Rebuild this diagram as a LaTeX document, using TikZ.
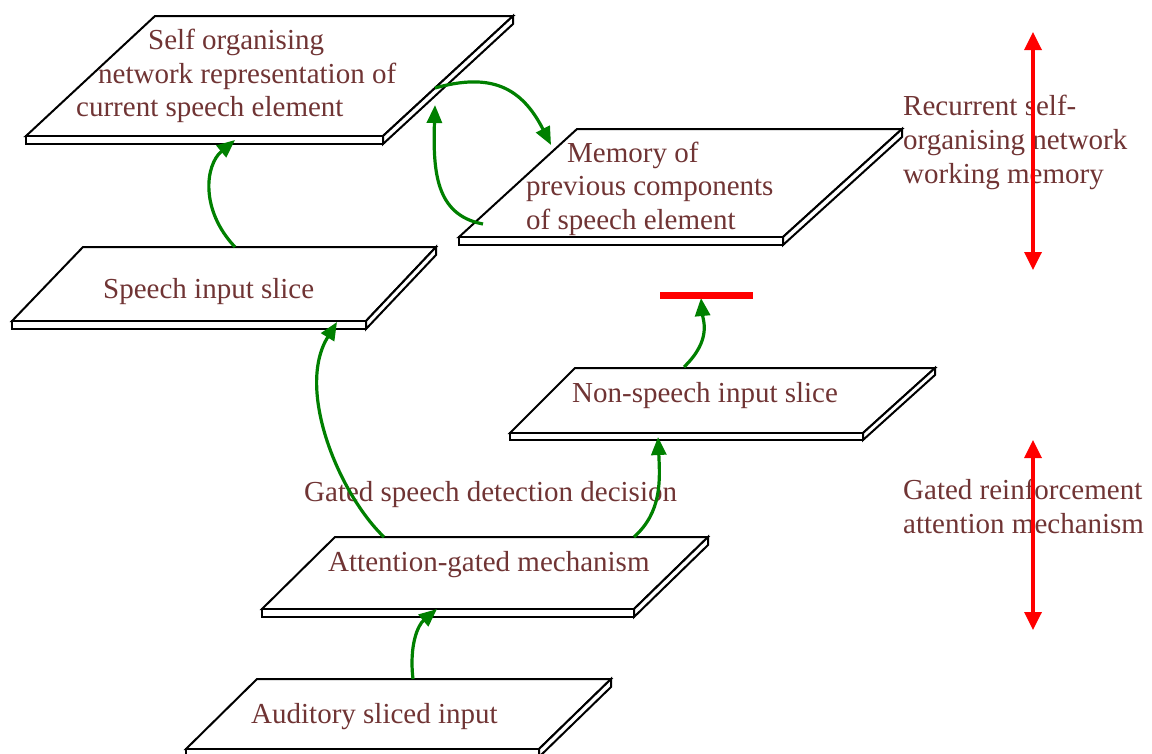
\documentclass[tikz,border=0pt]{standalone}
\usepackage{fontspec}
\setmainfont{Liberation Serif}
\usetikzlibrary{arrows.meta}
\definecolor{txt}{RGB}{112,52,52}
\definecolor{grn}{RGB}{0,128,0}
\definecolor{rd}{RGB}{255,0,0}
\tikzset{
  slabline/.style={draw=black, fill=white, line width=2pt, line join=miter},
  lbl/.style={anchor=base west, inner sep=0pt, text=txt, font=\fontsize{29}{33}\selectfont},
  garrow/.style={draw=grn, line width=3.2pt, -{Triangle[length=18pt,width=15pt]}},
  rarrow/.style={draw=rd, line width=3.4pt, {Triangle[length=18pt,width=17pt]}-{Triangle[length=18pt,width=17pt]}},
  rbar/.style={draw=rd, line width=7pt},
}
% #1 name, #2 TLx, #3 TRx, #4 top y, #5 BLx, #6 BRx, #7 bottom y, #8 thickness
\newcommand{\slabdraw}[8]{%
  \path[slabline] (#2,#4) -- (#3,#4) -- (#6,#7) -- (#5,#7) -- cycle;
  \path[slabline] (#5,#7) -- (#6,#7) -- (#6,{#7+#8}) -- (#5,{#7+#8}) -- cycle;
  \path[slabline] (#3,#4) -- (#3,{#4+#8}) -- (#6,{#7+#8}) -- (#6,#7) -- cycle;
  \coordinate (#1-tl) at (#2,#4);
}
\begin{document}
\begin{tikzpicture}[x=1pt,y=-1pt]
\useasboundingbox[fill=white] (0,0) rectangle (1152,753);

% slabs
\slabdraw{self}{155}{513}{16}{26}{383}{136}{8}
\slabdraw{mem}{577}{902}{129}{459}{783}{237}{8}
\slabdraw{speech}{83}{436}{247}{12}{366}{321}{8}
\slabdraw{nonsp}{575}{935}{368}{510}{863}{433}{7}
\slabdraw{att}{335}{708}{537}{262}{634}{609}{8}
\slabdraw{aud}{257}{611}{679}{186}{539}{749}{8}

% labels
\node[lbl] (self1) at (148,49) {Self organising};
\node[lbl] (self2) at (98,83) {network representation of};
\node[lbl] (self3) at (76,116) {current speech element};
\node[lbl] (mem1) at (567,162) {Memory of};
\node[lbl] (mem2) at (526,195) {previous components};
\node[lbl] (mem3) at (526,229) {of speech element};
\node[lbl] (speechl) at (103,298) {Speech input slice};
\node[lbl] (nonspl) at (572,402) {Non-speech input slice};
\node[lbl] (gated) at (304,501) {Gated speech detection decision};
\node[lbl] (attl) at (328,571) {Attention-gated mechanism};
\node[lbl] (audl) at (251,723) {Auditory sliced input};
\node[lbl] (rec1) at (903,115) {Recurrent self-};
\node[lbl] (rec2) at (903,149) {organising network};
\node[lbl] (rec3) at (903,183) {working memory};
\node[lbl] (gr1) at (903,499) {Gated reinforcement};
\node[lbl] (gr2) at (903,533) {attention mechanism};

% connector end points
\coordinate (aud-o) at (413,679);
\coordinate (att-i) at (437,609);
\coordinate (att-o1) at (384,537);
\coordinate (speech-i) at (337,322);
\coordinate (att-o2) at (634,537);
\coordinate (nonsp-i) at (658,437);
\coordinate (nonsp-o) at (684,367);
\coordinate (bar-l) at (660,295);
\coordinate (bar-r) at (753,295);
\coordinate (bar-i) at (701,298);
\coordinate (speech-o) at (235,247);
\coordinate (self-i) at (235,140);
\coordinate (mem-o) at (483,224);
\coordinate (self-i2) at (435,105);
\coordinate (self-o) at (435,88);
\coordinate (mem-i) at (551,145);
\coordinate (r1-t) at (1033,32);
\coordinate (r1-b) at (1033,270);
\coordinate (r2-t) at (1033,440);
\coordinate (r2-b) at (1033,630);

% green arrows
\draw[garrow] (aud-o) .. controls (409,645) and (418,625) .. (att-i);
\draw[garrow] (att-o1) .. controls (340,495) and (295,390) .. (speech-i);
\draw[garrow] (att-o2) .. controls (662,512) and (660,480) .. (nonsp-i);
\draw[garrow] (nonsp-o) .. controls (712,340) and (703,320) .. (bar-i);
\draw[garrow] (speech-o) .. controls (200,210) and (205,165) .. (self-i);
\draw[garrow] (mem-o) .. controls (435,215) and (433,170) .. (self-i2);
\draw[garrow] (self-o) .. controls (492,72) and (522,88) .. (mem-i);

% red bar and arrows
\draw[rbar] (bar-l) -- (bar-r);
\draw[rarrow] (r1-t) -- (r1-b);
\draw[rarrow] (r2-t) -- (r2-b);
\end{tikzpicture}
\end{document}
